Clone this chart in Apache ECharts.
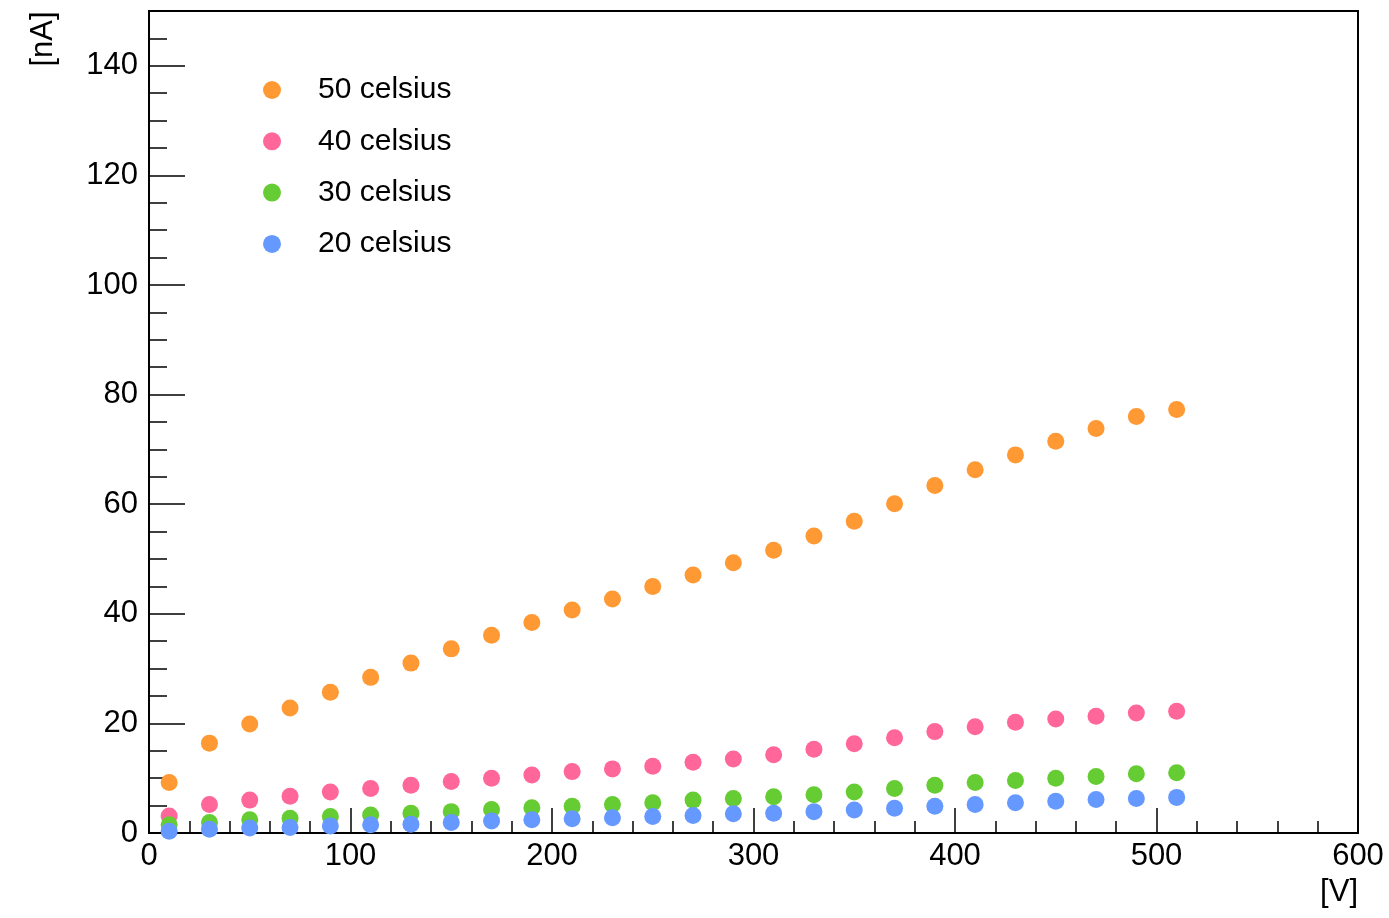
<!DOCTYPE html>
<html>
<head>
<meta charset="utf-8">
<script src="https://cdn.jsdelivr.net/npm/echarts@6/dist/echarts.min.js"></script>
<style>
html, body { margin: 0; padding: 0; background: #fff; }
#chart { width: 1389px; height: 918px; }
</style>
</head>
<body>
<div id="chart"></div>
<script>
const voltages = [10, 30, 50, 70, 90, 110, 130, 150, 170, 190, 210, 230, 250, 270, 290, 310, 330, 350, 370, 390, 410, 430, 450, 470, 490, 510];
const current50 = [9.2, 16.4, 19.9, 22.8, 25.7, 28.4, 31.0, 33.6, 36.1, 38.4, 40.7, 42.7, 45.0, 47.1, 49.3, 51.6, 54.2, 56.9, 60.1, 63.4, 66.3, 69.0, 71.5, 73.8, 76.0, 77.3];
const current40 = [3.1, 5.2, 6.0, 6.7, 7.5, 8.1, 8.7, 9.4, 10.0, 10.6, 11.2, 11.7, 12.2, 12.9, 13.5, 14.3, 15.3, 16.3, 17.4, 18.5, 19.4, 20.2, 20.8, 21.3, 21.9, 22.2];
const current30 = [1.5, 1.9, 2.4, 2.7, 3.0, 3.3, 3.6, 3.9, 4.3, 4.6, 4.9, 5.2, 5.5, 6.0, 6.3, 6.6, 7.0, 7.5, 8.1, 8.7, 9.2, 9.6, 10.0, 10.3, 10.8, 11.0];
const current20 = [0.3, 0.7, 0.9, 1.0, 1.3, 1.5, 1.6, 1.9, 2.2, 2.4, 2.6, 2.8, 3.0, 3.2, 3.5, 3.6, 3.9, 4.2, 4.5, 4.9, 5.2, 5.5, 5.8, 6.1, 6.3, 6.5];
const seriesNames = ['50 celsius', '40 celsius', '30 celsius', '20 celsius'];
const xTicks = [0, 100, 200, 300, 400, 500, 600];
const yTicks = [0, 20, 40, 60, 80, 100, 120, 140];

const colors = ['#ff9933', '#ff6699', '#66cc33', '#6699ff'];
const allCurrents = [current50, current40, current30, current20];
const FONT = '"Liberation Sans", Arial, Helvetica, sans-serif';

const chart = echarts.init(document.getElementById('chart'), null, { renderer: 'canvas' });

function pairs(ys) { return voltages.map((v, i) => [v, ys[i]]); }

const option = {
  animation: false,
  backgroundColor: '#ffffff',
  textStyle: { fontFamily: FONT },
  grid: {
    left: 149, top: 11, right: 31, bottom: 85,
    show: true, borderColor: '#000', borderWidth: 2, backgroundColor: 'transparent'
  },
  legend: {
    orient: 'vertical',
    left: 258, top: 70,
    itemWidth: 82, itemHeight: 18, itemGap: 21.3,
    icon: 'circle',
    selectedMode: false,
    data: seriesNames,
    textStyle: { fontFamily: FONT, fontSize: 30, lineHeight: 30, color: '#000' }
  },
  xAxis: [
    {
      type: 'value', min: xTicks[0], max: xTicks[xTicks.length - 1], interval: 100,
      position: 'bottom',
      axisLine: { show: true, onZero: false, lineStyle: { color: '#000', width: 2 } },
      axisTick: { show: true, inside: true, length: 25, lineStyle: { color: '#000', width: 1.5 } },
      axisLabel: { show: true, margin: 8, fontSize: 31, color: '#000', fontFamily: FONT, showMinLabel: true, showMaxLabel: true },
      splitLine: { show: false }
    },
    {
      type: 'value', min: 0, max: 600, interval: 20,
      position: 'bottom',
      axisLine: { show: false, onZero: false },
      axisTick: { show: true, inside: true, length: 12, lineStyle: { color: '#000', width: 1.5 } },
      axisLabel: { show: false },
      splitLine: { show: false }
    }
  ],
  yAxis: [
    {
      type: 'value', min: 0, max: 150, interval: 20,
      position: 'left',
      axisLine: { show: true, onZero: false, lineStyle: { color: '#000', width: 2 } },
      axisTick: { show: true, inside: true, length: 36, lineStyle: { color: '#000', width: 1.5 } },
      axisLabel: { show: true, margin: 11, fontSize: 31, color: '#000', fontFamily: FONT, showMaxLabel: false,
        formatter: v => (yTicks.indexOf(v) >= 0 ? String(v) : '') },
      splitLine: { show: false }
    },
    {
      type: 'value', min: 0, max: 150, interval: 5,
      position: 'left',
      axisLine: { show: false, onZero: false },
      axisTick: { show: true, inside: true, length: 18, lineStyle: { color: '#000', width: 1.5 } },
      axisLabel: { show: false },
      splitLine: { show: false }
    }
  ],
  graphic: [
    {
      type: 'text', x: 43, y: 39, rotation: Math.PI / 2,
      style: { text: '[nA]', font: '31px ' + FONT, fill: '#000', textAlign: 'center', textVerticalAlign: 'middle' }
    },
    {
      type: 'text', x: 1358, y: 892,
      style: { text: '[V]', font: '31px ' + FONT, fill: '#000', textAlign: 'right', textVerticalAlign: 'middle' }
    }
  ],
  series: seriesNames.map((name, i) => ({
    name: name,
    type: 'scatter',
    xAxisIndex: 0, yAxisIndex: 0,
    symbol: 'circle',
    symbolSize: 17,
    clip: false,
    itemStyle: { color: colors[i], opacity: 1 },
    emphasis: { disabled: true },
    data: pairs(allCurrents[i])
  }))
};

chart.setOption(option);
</script>
</body>
</html>
